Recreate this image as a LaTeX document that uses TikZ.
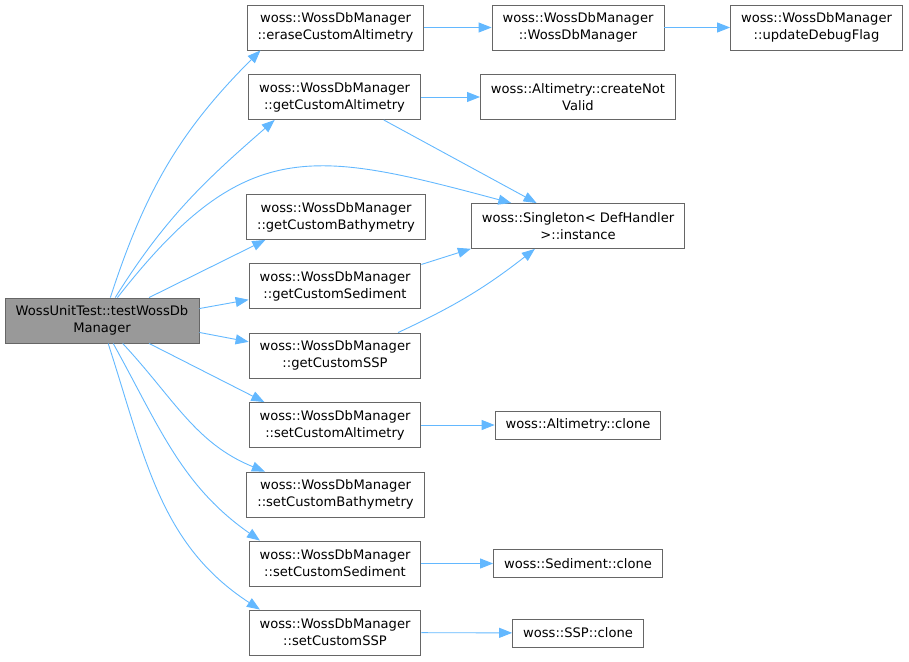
\documentclass[tikz,border=0pt]{standalone}
\usepackage{fontspec}
\setmainfont{DejaVu Sans}
\usepackage{tikz}
\usetikzlibrary{
    arrows.meta,
    positioning, calc
}
\definecolor{callblue}{HTML}{63B8FF}
\definecolor{boxgray}{HTML}{666666}
\definecolor{mainfill}{HTML}{999999}
\newcommand{\callto}[3][]{
    \draw[call, #1] (#2) to (#3);
}

\begin{document}
\begin{tikzpicture}[x=1pt, y=-1pt,
        fn/.style={draw=boxgray, line width=0.9pt, fill=white, align=center,
            inner xsep=10.5pt, inner ysep=0pt, minimum height=45pt,
            font=\fontsize{13.1}{17}\selectfont},
        leaf/.style={fn, minimum height=28pt},
        call/.style={draw=callblue, line width=0.9pt,
            -{Triangle[length=13pt, width=10pt]}}]
        \useasboundingbox (0, 0) rectangle (909, 661);
        \node[fn, fill=mainfill, minimum width=194pt] (main) at (102, 320.5) {WossUnitTest::testWossDb\\Manager};
        \node[fn] (erase) at (335.5, 27.5) {woss::WossDbManager\\::eraseCustomAltimetry};
        \node[fn] (ctor) at (578, 27.5) {woss::WossDbManager\\::WossDbManager};
        \node[fn] (debug) at (816.5, 27.5) {woss::WossDbManager\\::updateDebugFlag};
        \node[fn] (getalt) at (334.5, 97) {woss::WossDbManager\\::getCustomAltimetry};
        \node[fn] (notvalid) at (578, 97) {woss::Altimetry::createNot\\Valid};
        \node[fn] (getbathy) at (336, 217) {woss::WossDbManager\\::getCustomBathymetry};
        \node[fn] (inst) at (578, 226) {woss::Singleton< DefHandler\\>::instance};
        \node[fn] (getsed) at (335, 286) {woss::WossDbManager\\::getCustomSediment};
        \node[fn] (getssp) at (335, 355.5) {woss::WossDbManager\\::getCustomSSP};
        \node[fn] (setalt) at (335, 425) {woss::WossDbManager\\::setCustomAltimetry};
        \node[leaf] (altclone) at (578, 425) {woss::Altimetry::clone};
        \node[fn] (setbathy) at (335.5, 494.5) {woss::WossDbManager\\::setCustomBathymetry};
        \node[fn] (setsed) at (335, 563.5) {woss::WossDbManager\\::setCustomSediment};
        \node[leaf] (sedclone) at (578, 563.5) {woss::Sediment::clone};
        \node[fn] (setssp) at (335, 632.5) {woss::WossDbManager\\::setCustomSSP};
        \node[leaf] (sspclone) at (578, 633) {woss::SSP::clone};
        \callto[out=72, in=-135]{main.70}{erase.-163}
        \callto[out=58, in=-139]{main.60}{getalt.-159}
        \callto[out=52, in=165, looseness=1.3]{main.56}{inst.161}
        \callto{main.26}{getbathy.-162}
        \callto{main.7}{getsed.-171}
        \callto{main.-7}{getssp.171}
        \callto{main.-26}{setalt.162}
        \callto[out=-47, in=158]{main.-48}{setbathy.162}
        \callto[out=-61, in=145]{main.-64}{setsed.163}
        \callto[out=-72, in=147]{main.-75}{setssp.163}
        \callto{erase}{ctor}
        \callto{ctor}{debug}
        \callto{getalt}{notvalid}
        \callto{getalt.-25}{inst.151}
        \callto{getsed.14}{inst.-168}
        \callto[out=25, in=-142]{getssp.20}{inst.-152}
        \callto{setalt}{altclone}
        \callto{setsed}{sedclone}
        \callto{setssp}{sspclone}
    \end{tikzpicture}
\end{document}
